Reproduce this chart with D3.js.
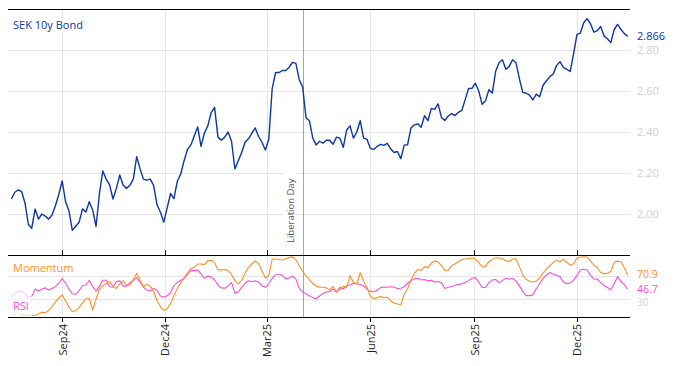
<!DOCTYPE html>
<html><head><meta charset="utf-8">
<script src="https://cdn.jsdelivr.net/npm/d3@7"></script>
<style>body{margin:0;background:#fff}svg{display:block;font-family:"Open Sans",sans-serif}</style>
</head><body><svg id="c" width="674" height="366"></svg>
<script>
// ---- data ----
const startDate = "2024-07-18";   // first observation
const stepDays = 3;               // sampling interval of the series below
const bond = [
2.073,2.106,2.117,2.11,2.055,1.95,1.93,2.024,1.975,2.0,
1.99,1.975,1.995,2.04,2.095,2.161,2.06,2.015,1.92,1.94,
1.96,2.025,2.01,2.06,2.02,1.94,2.1,2.21,2.17,2.142,
2.073,2.125,2.19,2.14,2.125,2.14,2.17,2.28,2.22,2.17,
2.165,2.17,2.14,2.045,2.01,1.96,2.03,2.1,2.075,2.16,
2.195,2.26,2.315,2.337,2.38,2.425,2.33,2.395,2.43,2.495,
2.52,2.375,2.36,2.375,2.40,2.355,2.22,2.26,2.3,2.35,
2.367,2.393,2.42,2.378,2.35,2.312,2.365,2.61,2.69,2.69,
2.70,2.70,2.715,2.74,2.735,2.655,2.62,2.47,2.455,2.37,
2.337,2.355,2.345,2.36,2.36,2.34,2.375,2.37,2.325,2.41,
2.43,2.37,2.40,2.455,2.37,2.365,2.32,2.315,2.33,2.34,
2.335,2.345,2.318,2.30,2.305,2.27,2.336,2.338,2.42,2.435,
2.44,2.423,2.48,2.455,2.515,2.51,2.537,2.47,2.456,2.478,
2.49,2.48,2.496,2.505,2.558,2.612,2.613,2.638,2.60,2.535,
2.552,2.606,2.59,2.696,2.738,2.752,2.706,2.72,2.752,2.738,
2.66,2.593,2.589,2.58,2.556,2.585,2.572,2.628,2.65,2.67,
2.683,2.725,2.743,2.715,2.706,2.695,2.78,2.876,2.882,2.933,
2.953,2.928,2.887,2.894,2.915,2.869,2.855,2.836,2.90,2.925,
2.9,2.88,2.866];
const momentum = [
1.4,4,7,3,1.5,3,1.5,2,4,7,
6.5,10,17,24.5,32,37,26.5,16,8,10,
15,23.5,30,31,11,30,47,52.8,56.7,60,
52,48,56,61,53,54,64,74,62.5,50.5,
55.5,52,43,27,17,10.5,12.9,22,35.5,48,
58,66,75,82,84,90,90,89,95.5,96.5,
92,80,80,80.5,78.7,72,61.5,56,62,74,
84.5,90,95.5,91,78.5,66,70,98.6,98.6,97.8,
97,99,101,102.3,97.5,87,77.5,69.5,63,56.5,
52.3,50.3,50,49,45.7,51.5,42,47,52,50,
70,58.6,55.7,75,60.5,49.5,35,30,32,34.5,
32,33,27,23,21.3,20.3,38.6,48,62,74,
81,79,85.5,83.5,92,95.3,93.7,87,79,79.5,
87,90.5,94,97.5,98.6,99.5,100.3,98.6,92.5,85,
86,94,98,101,100.4,99,95.8,94,98.6,99,
86,70.5,64,60.5,59,61,66,74.5,81.5,87,
93,96.7,93.5,98.4,93,88,90.5,100,102,102.3,
102,95,88,84,75.5,73.5,74,77.5,93,95,
94,83.5,70.9];
const rsi = [
34,39,43,43.5,39,33,34,47,43.5,47,
49,45.5,48,51,57,65,57,47,39,38,
44,53.5,54,62,51,43.5,52,62,62,51,
50,60,61,52,52,58.5,61.5,66.5,59,50,
45.5,43.5,48,45,35,33,35.5,41,53,58,
62,65.5,72,78.6,78.6,79.5,73,65.5,69.5,67.5,
63,53.5,49,48.5,52.5,58.5,40,42,50,57,
61.4,59.5,61,59,52.5,50,56,65.5,71.7,71.7,
71,64.5,66,69,64.5,48,42,39,35.5,32.3,
30.3,35,39.5,42,43,47,42,50,47,53,
54,57,56,55,52.5,47,43,42.5,45,49.5,
50.5,50,51,50,48,48.5,51,57,61.5,64.5,
65.7,62.5,63.5,61,62,59,60,58,48,50,
51.5,53.5,54.6,56,58.5,61.5,65.5,66.5,59,49.5,
50,58,62.5,63.5,58,61.5,66,64,65.5,61,
52.5,43,35.7,35.7,37,47.5,57,65,71.4,75.3,
72.6,70.7,68,59.5,56,57.5,62.3,70,79.7,80.9,
79.7,71,64.3,64,58.5,53,49.6,45.7,56,68.5,
60,54.5,46.7];
const warmup = 6;                 // oscillator warm-up observations (faded)
const xDomain = ["2024-07-15","2026-01-17"];
const xTicks = ["2024-09-01","2024-12-01","2025-03-01","2025-06-01","2025-09-01","2025-12-01"];
const bondDomain = [1.8, 3.0];
const bondTicks = [2.0, 2.2, 2.4, 2.6, 2.8];
const oscDomain = [-1, 105.5];
const oscGrid = [30, 70];
const oscTickLabels = [30];
const eventDate = "2025-04-02";
const eventLabel = "Liberation Day";
const names = {bond:"SEK 10y Bond", mom:"Momentum", rsi:"RSI"};
const colors = {bond:"#0c36a2", mom:"#ff8f1f", rsi:"#fb4cd8", grid:"#e6e6e6", tick:"#cfcfcf"};

// ---- build ----
const parse = d3.utcParse("%Y-%m-%d");
const t0 = parse(startDate);
const dates = bond.map((_, i) => d3.utcDay.offset(t0, i * stepDays));
const svg = d3.select("#c");
const L = 8, R = 630, T1 = 9, B1 = 255, T2 = 255, B2 = 317;

const x = d3.scaleUtc().domain(xDomain.map(parse)).range([L, R]);
const y1 = d3.scaleLinear().domain(bondDomain).range([B1, T1]);
const y2 = d3.scaleLinear().domain(oscDomain).range([B2, T2]);
const tickDates = xTicks.map(parse);

// gridlines
const g = svg.append("g").attr("shape-rendering", "crispEdges");
g.selectAll(".vg").data(tickDates).join("line")
  .attr("x1", d => Math.round(x(d)) + .5).attr("x2", d => Math.round(x(d)) + .5)
  .attr("y1", T1).attr("y2", B2).attr("stroke", colors.grid);
g.selectAll(".hg").data(bondTicks).join("line")
  .attr("x1", L).attr("x2", R)
  .attr("y1", d => Math.round(y1(d)) + .5).attr("y2", d => Math.round(y1(d)) + .5)
  .attr("stroke", colors.grid);
g.selectAll(".og").data(oscGrid).join("line")
  .attr("x1", L).attr("x2", R)
  .attr("y1", d => Math.round(y2(d)) + .5).attr("y2", d => Math.round(y2(d)) + .5)
  .attr("stroke", colors.grid);

// event line
const ex = Math.round(x(parse(eventDate))) + .5;
svg.append("line").attr("x1", ex).attr("x2", ex).attr("y1", T1).attr("y2", B2)
  .attr("stroke", "#a6a6a6").attr("shape-rendering", "crispEdges");

// bond line
const line1 = d3.line().x((d, i) => x(dates[i])).y(d => y1(d));
svg.append("path").datum(bond).attr("d", line1).attr("fill", "none")
  .attr("stroke", colors.bond).attr("stroke-width", 1.4).attr("stroke-linejoin", "round");

// oscillators
const line2 = d3.line().x(d => x(d.t)).y(d => y2(d.v));
function osc(arr, col) {
  const pts = arr.map((v, i) => ({t: dates[i], v}));
  svg.append("path").datum(pts.slice(0, warmup + 1)).attr("d", line2).attr("fill", "none")
    .attr("stroke", col).attr("stroke-width", 1.1).attr("opacity", 0.3);
  svg.append("path").datum(pts.slice(warmup)).attr("d", line2).attr("fill", "none")
    .attr("stroke", col).attr("stroke-width", 1.1).attr("stroke-linejoin", "round");
}
osc(rsi, colors.rsi);
osc(momentum, colors.mom);

// event label
const lg = svg.append("g").attr("transform", `translate(${ex - 10},243) rotate(-90)`);
lg.append("rect").attr("x", -2).attr("y", -10).attr("width", 72).attr("height", 13).attr("fill", "#fff");
lg.append("text").attr("x", 0).attr("y", 0).attr("font-size", 9.5).attr("fill", "#555").text(eventLabel);

// frame lines
const f = svg.append("g").attr("stroke", "#000").attr("shape-rendering", "crispEdges");
[T1, B1, B2].forEach(yy => f.append("line").attr("x1", L).attr("x2", R).attr("y1", yy + .5).attr("y2", yy + .5));

// x ticks
const xt = svg.append("g").attr("stroke", "#000").attr("shape-rendering", "crispEdges");
xt.selectAll(".a").data(tickDates).join("line")
  .attr("x1", d => Math.round(x(d)) + .5).attr("x2", d => Math.round(x(d)) + .5)
  .attr("y1", B1 - 5).attr("y2", B1);
xt.selectAll(".b").data(tickDates).join("line")
  .attr("x1", d => Math.round(x(d)) + .5).attr("x2", d => Math.round(x(d)) + .5)
  .attr("y1", B2).attr("y2", B2 + 5);
const fmt = d3.utcFormat("%b%y");
svg.selectAll(".xl").data(tickDates).join("text")
  .attr("transform", d => `translate(${x(d) + 0.5},324) rotate(-90)`)
  .attr("text-anchor", "end").attr("dy", "0.35em").attr("font-size", 11).attr("fill", "#222")
  .text(fmt);

// right labels
svg.selectAll(".yl").data(bondTicks).join("text")
  .attr("x", 637).attr("y", d => y1(d)).attr("dy", "0.35em")
  .attr("font-size", 11).attr("fill", colors.tick).text(d3.format(".2f"));
svg.selectAll(".ol").data(oscTickLabels).join("text")
  .attr("x", 637).attr("y", d => y2(d) + 4).attr("dy", "0.35em")
  .attr("font-size", 10).attr("fill", colors.tick).text(d => d);
const lastBond = bond[bond.length - 1];
svg.append("rect").attr("x", 635).attr("y", y1(lastBond) - 7).attr("width", 32).attr("height", 13).attr("fill", "#fff");
svg.append("text").attr("x", 637).attr("y", y1(lastBond)).attr("dy", "0.35em")
  .attr("font-size", 11).attr("fill", colors.bond).text(d3.format(".3f")(lastBond));
const lm = momentum[momentum.length - 1], lr = rsi[rsi.length - 1];
svg.append("text").attr("x", 637).attr("y", y2(lm) - 1).attr("dy", "0.35em")
  .attr("font-size", 10.5).attr("fill", colors.mom).text(d3.format(".1f")(lm));
svg.append("text").attr("x", 637).attr("y", y2(lr)).attr("dy", "0.35em")
  .attr("font-size", 10.5).attr("fill", colors.rsi).text(d3.format(".1f")(lr));

// series name labels
function nameLabel(txt, yy, col, w) {
  svg.append("rect").attr("x", L + 1).attr("y", yy - 7).attr("width", w).attr("height", 14)
    .attr("fill", "#fff").attr("opacity", 0.85);
  svg.append("text").attr("x", 13).attr("y", yy).attr("dy", "0.35em")
    .attr("font-size", 11).attr("fill", col).text(txt);
}
nameLabel(names.bond, 25, colors.bond, 78);
nameLabel(names.mom, 268, colors.mom, 68);
nameLabel(names.rsi, 306, colors.rsi, 22);
</script></body></html>
